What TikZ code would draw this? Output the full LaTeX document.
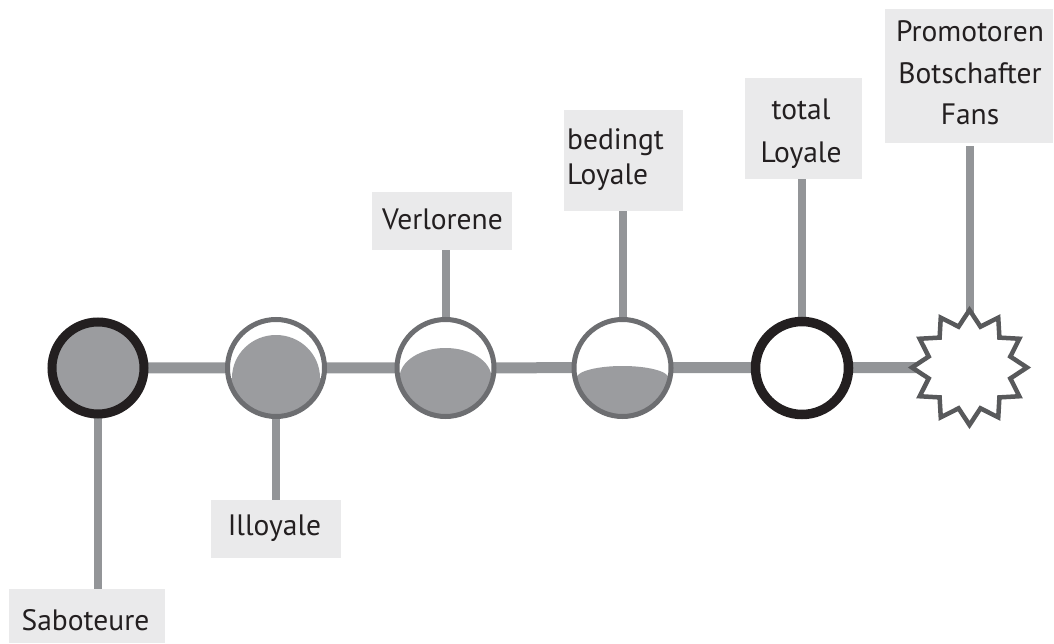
\documentclass[tikz,border=0pt]{standalone}
\usepackage{fontspec}
\setmainfont{PT Sans}
\usetikzlibrary{shapes.geometric,backgrounds}
\definecolor{barclr}{HTML}{939598}
\definecolor{boxclr}{HTML}{EAEAEB}
\definecolor{fillclr}{HTML}{9B9C9F}
\definecolor{ringclr}{HTML}{6D6E71}
\definecolor{inkclr}{HTML}{231F20}
\definecolor{starclr}{HTML}{58595B}
\tikzset{
  label box/.style={fill=boxclr, inner sep=0pt},
  label text/.style={inner sep=0pt, text=inkclr, align=center, anchor=base,
    font=\fontsize{29.5}{41.5}\selectfont},
  dark ring/.style={circle, draw=inkclr, line width=9pt, inner sep=0pt, minimum size=92pt},
  grey ring/.style={circle, draw=ringclr, line width=5pt, fill=white, inner sep=0pt, minimum size=97pt},
  dome/.style={path picture={
      \begin{scope}
        \clip (path picture bounding box.center) circle [radius=46.5];
        \fill[fillclr] ([shift={(0,10)}]path picture bounding box.center) ellipse [x radius=#1];
        \fill[fillclr] ([shift={(-60,10)}]path picture bounding box.center) rectangle ++(120,60);
      \end{scope}}},
  spoke/.style={draw=barclr, line width=8pt},
  axis/.style={draw=barclr, line width=11pt}
}
\begin{document}
\begin{tikzpicture}[x=1pt, y=-1pt]
\useasboundingbox (0,0) rectangle (1054,644);

% states along the axis
\node[dark ring, fill=fillclr] (c1) at (98,368) {};
\node[grey ring, dome={44, y radius=43}] (c2) at (276,368) {};
\node[grey ring, dome={46, y radius=30}] (c3) at (445.5,368) {};
\node[grey ring, dome={46, y radius=12}] (c4) at (622.5,368) {};
\node[dark ring, fill=white, minimum size=93pt, line width=9.5pt] (c5) at (802,368) {};
\node[star, star points=12, star point ratio=1.36, minimum size=115pt, inner sep=0pt,
      draw=starclr, line width=4.5pt, fill=white] (st) at (969.5,367.5) {};

% label boxes
\node[label box, minimum width=156pt, minimum height=54pt] (sab) at (87,616) {};
\node[label box, minimum width=130pt, minimum height=58pt] (ill) at (276,529) {};
\node[label box, minimum width=140pt, minimum height=58pt] (ver) at (442,221) {};
\node[label box, minimum width=119pt, minimum height=101pt] (bed) at (623.5,160.5) {};
\node[label box, minimum width=117pt, minimum height=101pt] (tot) at (803.5,128.5) {};
\node[label box, minimum width=168pt, minimum height=134pt] (prom) at (969,76) {};

% label texts, placed on their last baselines
\node[label text] (sab-t) at (85.5,630) {Saboteure};
\node[label text] (ill-t) at (274.5,535) {Illoyale};
\node[label text] (ver-t) at (442.5,230) {Verlorene};
\node[label text, align=left, anchor=base west, font=\fontsize{29.5}{35}\selectfont]
  (bed-t) at (567,185) {bedingt\\Loyale};
\node[label text, font=\fontsize{29.5}{43}\selectfont] (tot-t) at (801,163) {total\\Loyale};
\node[label text] (prom-t) at (970,125) {Promotoren\\Botschafter\\Fans};

% connectors behind the states
\begin{scope}[on background layer]
  \draw[axis] (c1.center) -- (st.center);
  \draw[spoke] (c1.center) -- (c1.center |- sab.north);
  \draw[spoke] (c2.center) -- (c2.center |- ill.north);
  \draw[spoke] (c3.center) -- (c3.center |- ver.south);
  \draw[spoke] (c4.center) -- (c4.center |- bed.south);
  \draw[spoke] (c5.center) -- (c5.center |- tot.south);
  \draw[spoke] (st.center) -- ([yshift=-3pt]st.center |- prom.south);
\end{scope}
\end{tikzpicture}
\end{document}
